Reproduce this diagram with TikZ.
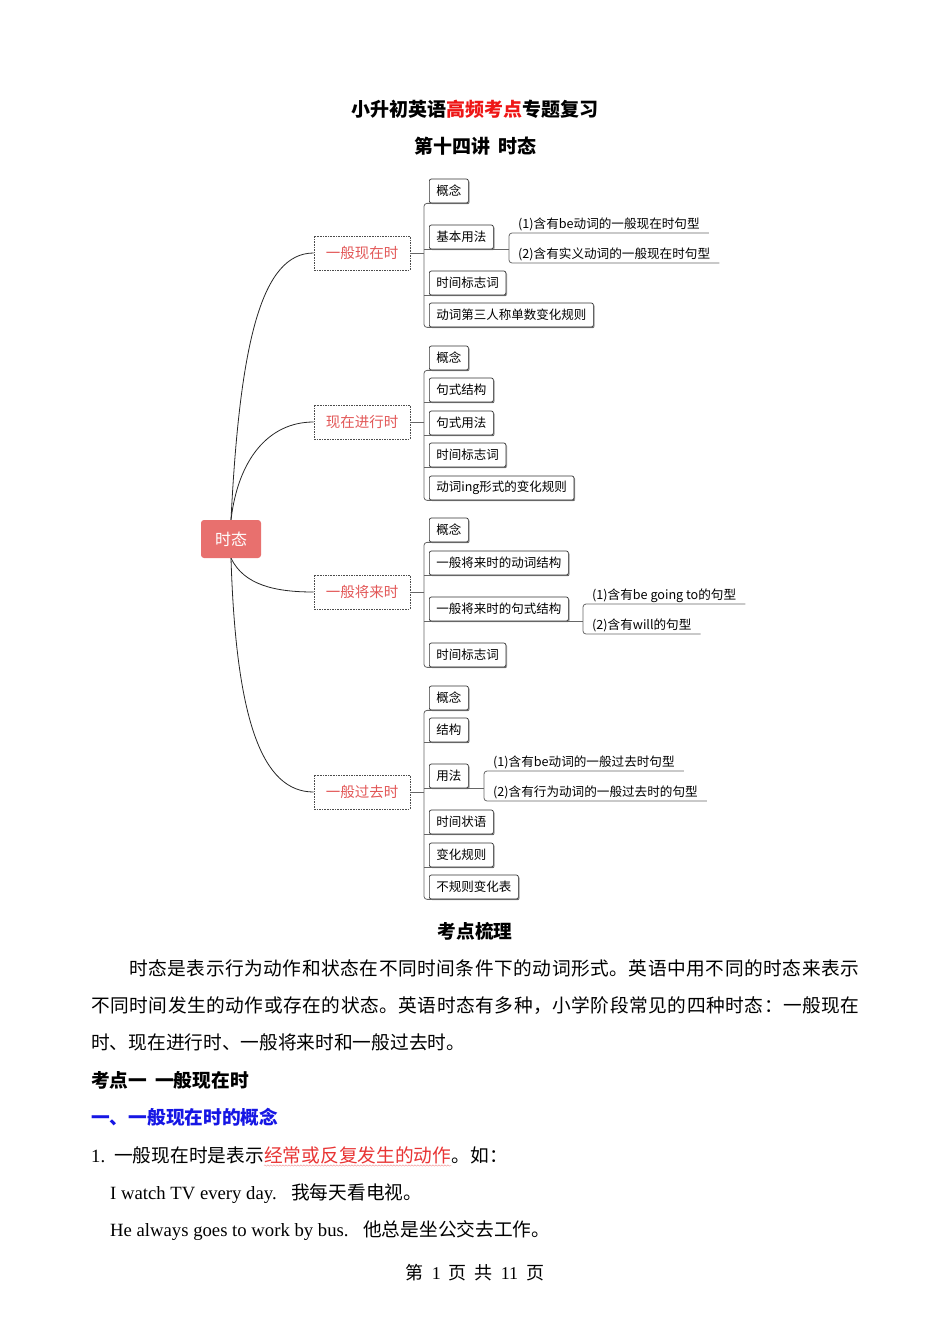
\documentclass[tikz,border=0pt]{standalone}
\usepackage{fontspec}
\setmainfont{Liberation Serif}
\newfontfamily\cjk{Noto Sans CJK SC}
\usetikzlibrary{shadows,decorations.pathmorphing}
\definecolor{rootred}{RGB}{232,112,110}
\definecolor{lvred}{RGB}{226,88,88}
\definecolor{ttred}{RGB}{238,22,22}
\definecolor{hblue}{RGB}{22,22,228}
\definecolor{wred}{RGB}{232,52,52}
\begin{document}
\begin{tikzpicture}[x=1pt,y=-1pt,
  rootbox/.style={fill=rootred, rounded corners=3pt, minimum width=60pt, minimum height=38pt,
    text=white, font=\cjk\fontsize{16}{18}\selectfont, inner sep=0},
  lvlbox/.style={draw=black!70, dash pattern=on 1.6pt off 1pt, line width=0.7pt, minimum width=96pt,
    minimum height=34pt, text=lvred, font=\cjk\fontsize{14.5}{16}\selectfont, inner sep=0},
  leaf/.style={draw=black!80, fill=white, rounded corners=2pt, line width=0.7pt, minimum height=24pt,
    inner xsep=7pt, inner ysep=0pt, font=\cjk\fontsize{12.5}{14}\selectfont, anchor=west,
    drop shadow={shadow xshift=1.2pt, shadow yshift=-1.2pt, fill=black!40, opacity=1}},
  subtxt/.style={font=\cjk\fontsize{12.6}{14}\selectfont, anchor=south west, inner xsep=9pt,
    inner ysep=2pt, text height=10.5pt, text depth=2pt},
  conn/.style={draw=black!85, line width=0.8pt},
  spine/.style={draw=black!60, line width=0.8pt, rounded corners=3pt},
  body/.style={font=\cjk\fontsize{18.7}{20}\selectfont, inner sep=0, anchor=base west},
  bodysp/.style={font=\cjk\fontsize{18.7}{20}\selectfont\addfontfeature{LetterSpace=2.8}, inner sep=0, anchor=base west},
  bodyb/.style={font=\cjk\bfseries\fontsize{18.7}{20}\selectfont, inner sep=0, anchor=base west}
]
\useasboundingbox (0,0) rectangle (950,1344);

% titles
\node[font=\cjk\bfseries\fontsize{19}{21}\selectfont, inner sep=0] (t1) at (475,109)
  {小升初英语\textcolor{ttred}{高频考点}专题复习};
\node[font=\cjk\bfseries\fontsize{19}{21}\selectfont, inner sep=0] (t2) at (475,146)
  {第十四讲\hspace{8pt}时态};

% root and level 1
\node[rootbox] (root) at (231,539) {时态};
\node[lvlbox] (A) at (362,253) {一般现在时};
\node[lvlbox] (B) at (362,422) {现在进行时};
\node[lvlbox] (C) at (362,592) {一般将来时};
\node[lvlbox] (D) at (362,792) {一般过去时};

\draw[conn] (root.north) .. controls (240,340) and (262,253) .. (A.west);
\draw[conn] (root.north) .. controls (238,460) and (268,422) .. (B.west);
\draw[conn] (root.south) .. controls (244,585) and (275,592) .. (C.west);
\draw[conn] (root.south) .. controls (236,720) and (262,792) .. (D.west);

% spine x positions
\coordinate (sa) at (424,253);
\coordinate (sb) at (424,422);
\coordinate (sc) at (424,592);
\coordinate (sd) at (424,792);

% section A
\node[leaf] (a1) at (429,191) {概念};
\node[leaf] (a2) at (429,237) {基本用法};
\node[leaf] (a3) at (429,283) {时间标志词};
\node[leaf] (a4) at (429,315) {动词第三人称单数变化规则};
\draw[spine] (A.east) -- (sa);
\draw[spine] (a1.south east) -- (a1.south west -| sa) -- (a4.south west -| sa) -- (a4.south east);
\draw[spine] (a2.south east) -- (a2.south west -| sa);
\draw[spine] (a3.south east) -- (a3.south west -| sa);
\node[subtxt] (a21) at (509,233) {(1)含有be动词的一般现在时句型};
\node[subtxt] (a22) at (509,263) {(2)含有实义动词的一般现在时句型};
\draw[spine] (a2.south east) -- (a2.south east -| a21.south west);
\draw[spine] (a21.south east) -- (a21.south west) -- (a22.south west) -- (a22.south east);

% section B
\node[leaf] (b1) at (429,358) {概念};
\node[leaf] (b2) at (429,390) {句式结构};
\node[leaf] (b3) at (429,423) {句式用法};
\node[leaf] (b4) at (429,455) {时间标志词};
\node[leaf] (b5) at (429,488) {动词ing形式的变化规则};
\draw[spine] (B.east) -- (sb);
\draw[spine] (b1.south east) -- (b1.south west -| sb) -- (b5.south west -| sb) -- (b5.south east);
\draw[spine] (b2.south east) -- (b2.south west -| sb);
\draw[spine] (b3.south east) -- (b3.south west -| sb);
\draw[spine] (b4.south east) -- (b4.south west -| sb);

% section C
\node[leaf] (c1) at (429,530) {概念};
\node[leaf] (c2) at (429,563) {一般将来时的动词结构};
\node[leaf] (c3) at (429,609) {一般将来时的句式结构};
\node[leaf] (c4) at (429,655) {时间标志词};
\draw[spine] (C.east) -- (sc);
\draw[spine] (c1.south east) -- (c1.south west -| sc) -- (c4.south west -| sc) -- (c4.south east);
\draw[spine] (c2.south east) -- (c2.south west -| sc);
\draw[spine] (c3.south east) -- (c3.south west -| sc);
\node[subtxt] (c31) at (583,604) {(1)含有be going to的句型};
\node[subtxt] (c32) at (583,634) {(2)含有will的句型};
\draw[spine] (c3.south east) -- (c3.south east -| c31.south west);
\draw[spine] (c31.south east) -- (c31.south west) -- (c32.south west) -- (c32.south east);

% section D
\node[leaf] (d1) at (429,698) {概念};
\node[leaf] (d2) at (429,730) {结构};
\node[leaf] (d3) at (429,776) {用法};
\node[leaf] (d4) at (429,822) {时间状语};
\node[leaf] (d5) at (429,855) {变化规则};
\node[leaf] (d6) at (429,887) {不规则变化表};
\draw[spine] (D.east) -- (sd);
\draw[spine] (d1.south east) -- (d1.south west -| sd) -- (d6.south west -| sd) -- (d6.south east);
\draw[spine] (d2.south east) -- (d2.south west -| sd);
\draw[spine] (d3.south east) -- (d3.south west -| sd);
\draw[spine] (d4.south east) -- (d4.south west -| sd);
\draw[spine] (d5.south east) -- (d5.south west -| sd);
\node[subtxt] (d31) at (484,771) {(1)含有be动词的一般过去时句型};
\node[subtxt] (d32) at (484,801) {(2)含有行为动词的一般过去时的句型};
\draw[spine] (d3.south east) -- (d3.south east -| d31.south west);
\draw[spine] (d31.south east) -- (d31.south west) -- (d32.south west) -- (d32.south east);

% body text
\node[font=\cjk\bfseries\fontsize{18.7}{20}\selectfont, inner sep=0] (h0) at (475,931) {考点梳理};
\node[bodysp] (p1) at (129,975) {时态是表示行为动作和状态在不同时间条件下的动词形式。英语中用不同的时态来表示};
\node[bodysp] (p2) at (91,1012) {不同时间发生的动作或存在的状态。英语时态有多种，小学阶段常见的四种时态：一般现在};
\node[body] (p3) at (91,1049) {时、现在进行时、一般将来时和一般过去时。};
\node[bodyb] (h1) at (91,1087) {考点一\hspace{8pt}一般现在时};
\node[bodyb, text=hblue] (h2) at (91,1124) {一、一般现在时的概念};
\node[body, font=\rmfamily\fontsize{18.7}{20}\selectfont] (n1) at (91,1162) {1.};
\node[body] (n2) at (114,1162) {一般现在时是表示};
\node[body, text=wred] (n3) at (n2.base east) {经常或反复发生的动作};
\node[body] (n4) at (n3.base east) {。如：};
\draw[wred!55, line width=0.4pt, decorate, decoration={snake, amplitude=0.7pt, segment length=3pt}]
  ([yshift=-3.5pt]n3.base west) -- ([yshift=-3.5pt]n3.base east);
\node[body, font=\rmfamily\fontsize{18.7}{20}\selectfont] (e1) at (110,1199) {I watch TV every day.};
\node[body] (e1c) at (291,1199) {我每天看电视。};
\node[body, font=\rmfamily\fontsize{18.7}{20}\selectfont] (e2) at (110,1236) {He always goes to work by bus.};
\node[body] (e2c) at (363,1236) {他总是坐公交去工作。};
\node[inner sep=0, font=\fontsize{18}{20}\selectfont] (foot) at (475,1273)
  {{\cjk 第}\hspace{8pt}1\hspace{8pt}{\cjk 页}\hspace{8pt}{\cjk 共}\hspace{8pt}11\hspace{8pt}{\cjk 页}};
\end{tikzpicture}
\end{document}
